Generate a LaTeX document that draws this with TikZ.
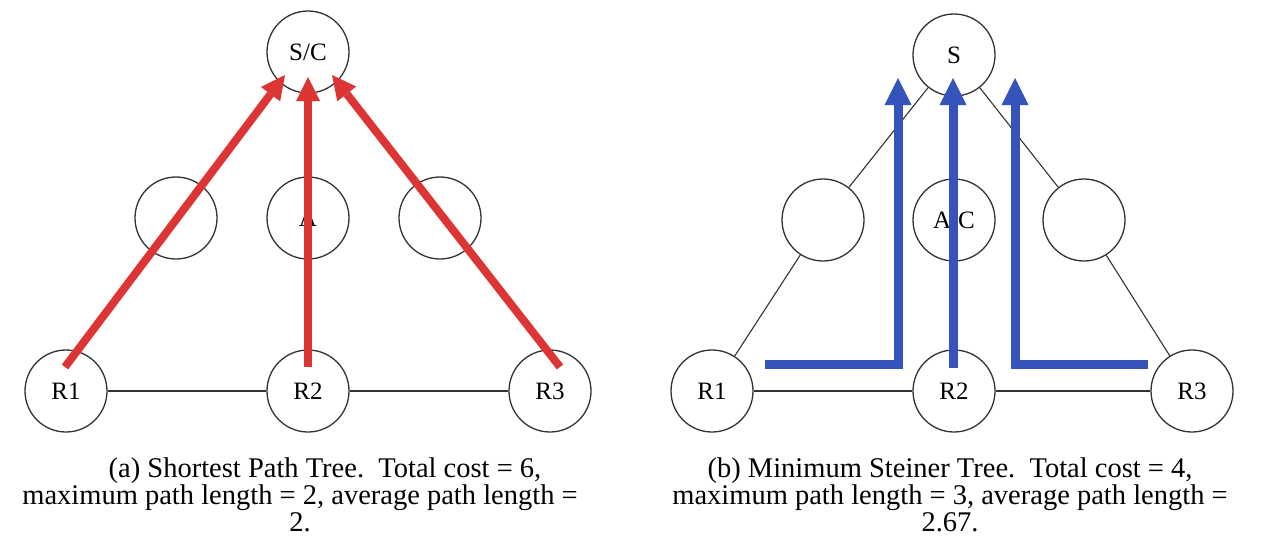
\documentclass[tikz,border=0pt]{standalone}
\usepackage{fontspec}
\setmainfont{Liberation Serif}
\definecolor{sptred}{RGB}{221,52,52}
\definecolor{smtblue}{RGB}{52,84,188}
\usetikzlibrary{arrows.meta,calc}

\begin{document}
\begin{tikzpicture}[x=1pt, y=-1pt,
  router/.style={circle, draw=black!80, line width=1.3pt, minimum size=82pt, inner sep=0pt, font=\fontsize{25}{25}\selectfont},
  link/.style={draw=black!80, line width=1.1pt},
  sptarrow/.style={draw=sptred, line width=8pt, -{Triangle[width=24pt, length=24pt, line width=0pt]}},
  smtarrow/.style={draw=smtblue, line width=9pt, -{Triangle[width=27pt, length=27pt, line width=0pt]}},
  caption/.style={align=center, font=\fontsize{28.5}{27}\selectfont}]
  \useasboundingbox (0,0) rectangle (1265,549);

  % (a) shortest path tree
  \node[router] (SC) at (308,52) {S/C};
  \node[router] (La) at (176,218) {};
  \node[router] (A) at (308,218) {A};
  \node[router] (Ra) at (440,218) {};
  \node[router] (R1a) at (66,391) {R1};
  \node[router] (R2a) at (308,391) {R2};
  \node[router] (R3a) at (550,391) {R3};
  \draw[link] (R1a) -- (R2a) -- (R3a);
  \draw[sptarrow] ($(R1a)+(-1,-24)$) -- ($(SC)+(-23,23)$);
  \draw[sptarrow] ($(R2a)+(0,-24)$) -- ($(SC)+(0,25)$);
  \draw[sptarrow] ($(R3a)+(10,-24)$) -- ($(SC)+(24,23)$);
  \node[caption] (capa) at (300,495) {\hspace*{50pt}(a) Shortest Path Tree.\ \ Total cost = 6,\\maximum path length = 2, average path length =\\2.};

  % (b) minimum steiner tree
  \node[router] (S) at (954,55) {S};
  \node[router] (Lb) at (823,220) {};
  \node[router] (AC) at (954,220) {A/C};
  \node[router] (Rb) at (1084,220) {};
  \node[router] (R1b) at (712,391) {R1};
  \node[router] (R2b) at (954,391) {R2};
  \node[router] (R3b) at (1192,391) {R3};
  \draw[link] (R1b) -- (R2b) -- (R3b);
  \draw[link] (S) -- (Lb) -- (R1b);
  \draw[link] (S) -- (Rb) -- (R3b);
  \draw[smtarrow] ($(R1b)+(53,-27)$) -| ($(S)+(-56,23)$);
  \draw[smtarrow] ($(R2b)+(-1,-23)$) -- ($(S)+(-1,23)$);
  \draw[smtarrow] ($(R3b)+(-44,-27)$) -| ($(S)+(61,23)$);
  \node[caption] (capb) at (950,495) {(b) Minimum Steiner Tree.\ \ Total cost = 4,\\maximum path length = 3, average path length =\\2.67.};
\end{tikzpicture}
\end{document}
